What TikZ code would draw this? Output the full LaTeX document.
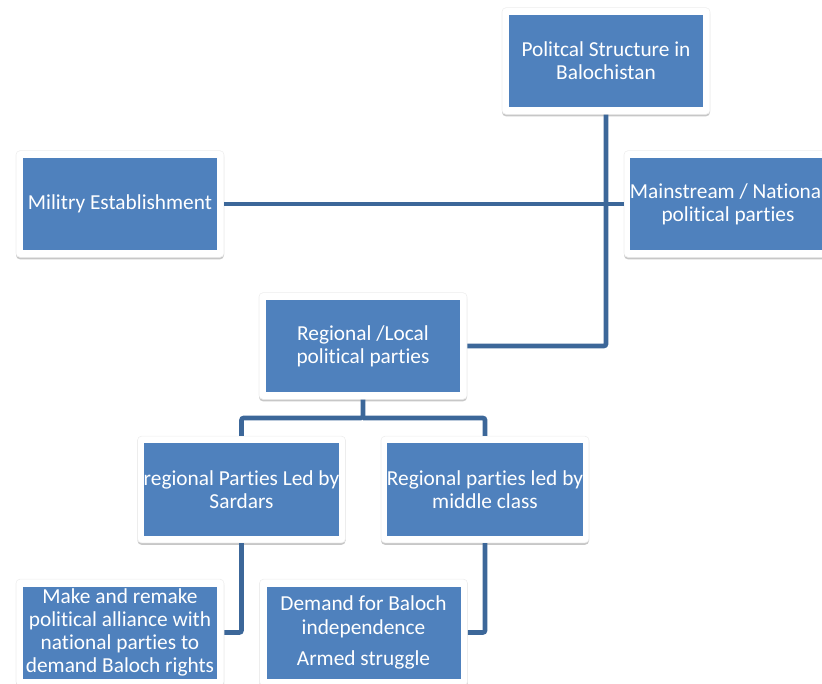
\documentclass[tikz,border=0pt]{standalone}
\usepackage{fontspec}
\setmainfont{Carlito}[Ligatures={NoCommon}]
\usetikzlibrary{shadows}
\definecolor{boxblue}{HTML}{4F81BD}
\definecolor{linkblue}{RGB}{60,103,153}
\begin{document}
\begin{tikzpicture}[x=0.75pt,y=-0.75pt,
  frame/.style={fill=white, draw=black!7, line width=0.4pt, rounded corners=3pt, minimum width=156pt, minimum height=80pt, inner sep=0pt,
    drop shadow={shadow xshift=0pt, shadow yshift=-1.5pt, opacity=0.22, fill=black}},
  bbox/.style={fill=boxblue, minimum width=145.5pt, minimum height=69pt, inner sep=0pt, text=white, align=center,
    font=\fontsize{16}{17.4}\selectfont},
  link/.style={draw=linkblue, line width=3.4pt, rounded corners=1.5pt}]
\useasboundingbox (0,0) rectangle (822,684);
\clip (0,0) rectangle (822,684);
\coordinate (ctop) at (606,61);
\coordinate (cmil) at (120,204);
\coordinate (cmain) at (728,204);
\coordinate (creg) at (363,346);
\coordinate (csard) at (241.5,489.5);
\coordinate (cmid) at (485,489.5);
\coordinate (cbl) at (120,632.5);
\coordinate (cbal) at (363.5,632.5);
% frames
\node[frame] (ftop) at (ctop) {};
\node[frame] (fmil) at (cmil) {};
\node[frame] (fmain) at (cmain) {};
\node[frame] (freg) at (creg) {};
\node[frame] (fsard) at (csard) {};
\node[frame] (fmid) at (cmid) {};
\node[frame] (fbl) at (cbl) {};
\node[frame] (fbal) at (cbal) {};
% connectors
\coordinate (split) at (363,418);
\draw[link] (ftop.south) |- (freg.east);
\draw[link] (fmil.east) -- (fmain.west);
\draw[link] (freg.south) -- (split) -| (fsard.north);
\draw[link] (split) -| (fmid.north);
\draw[link] (fsard.south) |- (fbl.east);
\draw[link] (fmid.south) |- (fbal.east);
% boxes
\node[bbox] (top) at (ctop) {Politcal Structure in\\Balochistan};
\node[bbox] (mil) at (cmil) {Militry Establishment};
\node[bbox] (main) at (cmain) {Mainstream / National\\political parties};
\node[bbox] (reg) at (creg) {Regional /Local\\political parties};
\node[bbox] (sard) at (csard) {regional Parties Led by\\Sardars};
\node[bbox] (mid) at (cmid) {Regional parties led by\\middle class};
\node[bbox] (bl) at (cbl) {Make and remake\\political alliance with\\national parties to\\demand Baloch rights};
\node[bbox] (bal) at (cbal) {Demand for Baloch\\independence\\[6pt]Armed struggle};
\end{tikzpicture}
\end{document}
